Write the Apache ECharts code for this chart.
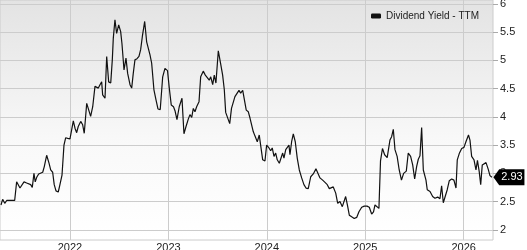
<!DOCTYPE html>
<html><head><meta charset="utf-8">
<script src="https://cdn.jsdelivr.net/npm/echarts@6/dist/echarts.min.js"></script>
<style>html,body{margin:0;padding:0;background:#fff}#c{width:527px;height:250px}</style>
</head><body><div id="c"></div>
<script>
// x values are decimal years
const dates = [
2021.299,2021.316,2021.337,2021.357,2021.377,2021.398,2021.418,2021.438,2021.458,2021.475,2021.492,2021.512,2021.533,2021.560,2021.576,2021.601,2021.617,2021.634,2021.647,2021.662,2021.682,2021.702,2021.723,2021.739,2021.763,2021.787,2021.804,2021.824,2021.840,2021.858,2021.881,2021.898,2021.919,2021.939,2021.956,2021.977,2022.000,2022.020,2022.034,2022.051,2022.068,2022.084,2022.109,2022.129,2022.145,2022.170,2022.186,2022.210,
2022.231,2022.254,2022.271,2022.288,2022.305,2022.322,2022.332,2022.356,2022.373,2022.393,2022.414,2022.430,2022.440,2022.457,2022.474,2022.495,2022.515,2022.528,2022.549,2022.569,2022.586,2022.610,2022.627,2022.643,2022.660,2022.681,2022.701,2022.718,2022.735,2022.759,2022.779,2022.796,2022.813,2022.830,2022.853,2022.874,2022.894,2022.917,
2022.942,2022.965,2022.991,2023.009,2023.029,2023.052,2023.067,2023.087,2023.110,2023.138,2023.158,2023.179,2023.202,2023.219,2023.237,2023.253,2023.270,2023.287,2023.311,2023.328,2023.354,2023.375,2023.395,2023.415,2023.430,2023.450,2023.466,2023.483,2023.507,2023.531,2023.551,2023.568,2023.582,2023.602,2023.623,2023.641,2023.659,2023.676,2023.694,2023.717,2023.734,2023.755,2023.771,2023.791,2023.812,2023.829,
2023.846,2023.862,2023.880,2023.903,2023.923,2023.941,2023.958,2023.981,2023.998,2024.022,2024.039,2024.055,2024.073,2024.090,2024.106,2024.127,2024.144,2024.161,2024.174,2024.192,2024.208,2024.225,2024.235,2024.252,2024.269,2024.289,2024.309,2024.330,2024.354,2024.377,2024.398,2024.421,2024.446,2024.472,2024.499,2024.517,2024.540,2024.567,2024.591,2024.614,2024.635,
2024.652,2024.675,2024.700,2024.720,2024.743,2024.767,2024.784,2024.801,2024.821,2024.838,2024.862,2024.888,2024.913,2024.936,2024.964,2024.990,2025.018,2025.041,2025.065,2025.084,2025.099,2025.116,2025.139,2025.155,2025.175,2025.197,2025.223,2025.251,2025.268,2025.285,2025.302,2025.324,2025.345,2025.368,2025.390,2025.417,2025.437,2025.461,
2025.482,2025.502,2025.522,2025.539,2025.556,2025.573,2025.590,2025.617,2025.630,2025.658,2025.685,2025.708,2025.736,2025.759,2025.776,2025.793,2025.810,2025.833,2025.854,2025.878,2025.901,2025.922,2025.935,2025.955,2025.980,2026.003,2026.023,2026.049,2026.064,2026.081,2026.105,2026.125,2026.140,2026.158,2026.173,2026.189,2026.206,2026.227,2026.250,2026.267,2026.287
];
const yields = [
2.44,2.54,2.47,2.52,2.49,2.52,2.50,2.52,2.85,2.82,2.74,2.77,2.85,2.83,2.85,2.80,2.75,3.00,2.85,2.93,2.99,2.97,3.02,3.12,3.32,3.18,3.06,3.02,2.80,2.69,2.67,2.80,2.97,3.50,3.63,3.62,3.61,3.62,3.93,3.80,3.72,3.83,3.92,3.86,3.71,4.24,4.21,4.01,
4.18,4.54,4.57,4.51,4.57,4.62,4.39,4.33,5.07,4.62,4.60,5.01,5.39,5.72,5.48,5.63,5.51,5.30,4.83,5.04,4.77,4.57,4.51,4.77,5.01,5.03,5.07,5.19,5.42,5.69,5.33,5.30,5.10,4.95,4.48,4.30,4.14,4.13,
4.71,4.86,4.82,4.51,4.21,4.18,4.11,3.95,4.18,4.33,3.70,3.83,3.96,4.04,3.99,4.15,4.09,4.18,4.27,4.71,4.81,4.74,4.77,4.65,4.71,4.57,4.74,4.60,5.17,4.94,4.74,4.48,4.08,4.05,3.88,4.15,4.18,4.36,4.33,4.47,4.42,4.47,4.45,4.12,4.09,3.98,
3.95,3.74,3.66,3.56,3.68,3.45,3.24,3.22,3.50,3.45,3.40,3.45,3.30,3.36,3.24,3.18,3.16,3.36,3.27,3.42,3.45,3.50,3.33,3.56,3.70,3.56,3.27,3.06,2.92,2.80,2.74,2.73,2.94,2.99,3.08,3.06,2.92,2.88,2.84,2.80,2.73,
2.71,2.76,2.65,2.47,2.50,2.41,2.44,2.59,2.42,2.26,2.23,2.20,2.22,2.32,2.40,2.42,2.42,2.40,2.28,2.32,2.44,2.47,2.38,3.22,3.44,3.33,3.28,3.59,3.65,3.78,3.42,3.30,3.06,2.88,3.00,3.04,3.36,3.30,
3.15,2.90,3.12,3.25,3.31,3.81,3.06,2.88,2.71,2.68,2.59,2.56,2.58,2.55,2.78,2.48,2.46,2.71,2.87,2.90,2.88,2.74,3.24,3.35,3.44,3.46,3.56,3.68,3.59,3.30,3.24,3.06,3.23,3.03,2.80,3.15,3.18,3.19,3.07,2.96,2.93
];
const xTicks = [2022, 2023, 2024, 2025, 2026];
const yTicks = [2, 2.5, 3, 3.5, 4, 4.5, 5, 5.5, 6];
const seriesName = 'Dividend Yield - TTM';

const FONT = 'Liberation Sans, Arial, sans-serif';
const points = dates.map((d, i) => [d, yields[i]]);
const last = points[points.length - 1];

const chart = echarts.init(document.getElementById('c'), null, {renderer: 'canvas'});
chart.setOption({
  animation: false,
  backgroundColor: '#ffffff',
  grid: {
    left: 0, right: 34, top: 0, bottom: 10,
    containLabel: false, outerBoundsMode: 'none',
    show: true, borderColor: '#cccccc', borderWidth: 1,
    backgroundColor: {type: 'linear', x: 0, y: 0, x2: 0, y2: 1,
      colorStops: [{offset: 0, color: '#e3e3e3'}, {offset: 0.6, color: '#f9f9f9'}, {offset: 1, color: '#ffffff'}]}
  },
  legend: {
    show: true, right: 43, top: 6, itemWidth: 10, itemHeight: 5, itemGap: 10,
    icon: 'roundRect',
    textStyle: {fontFamily: FONT, fontSize: 10, color: '#222'},
    data: [seriesName]
  },
  xAxis: {
    type: 'value', min: 2021.289, max: 2026.298,
    axisLine: {show: false},
    axisTick: {show: false, customValues: xTicks},
    axisLabel: {customValues: xTicks, margin: 2, fontFamily: FONT, fontSize: 11, color: '#222',
      formatter: v => String(v)},
    splitLine: {show: true, lineStyle: {color: '#cccccc', width: 1}}
  },
  yAxis: {
    type: 'value', position: 'right', min: 1.82, max: 6.07,
    axisLine: {show: false},
    axisTick: {show: true, length: 5, customValues: yTicks, lineStyle: {color: '#aaaaaa'}},
    axisLabel: {customValues: yTicks, margin: 7, fontFamily: FONT, fontSize: 11, color: '#222'},
    splitLine: {show: true, lineStyle: {color: '#cccccc', width: 1}}
  },
  series: [{
    name: seriesName, type: 'line', data: points, showSymbol: false,
    lineStyle: {color: '#111111', width: 1.2}, itemStyle: {color: '#111111'},
    markPoint: {
      symbol: 'path://M0,8L6,0L32,0L32,16L6,16Z',
      symbolSize: [31, 16], symbolKeepAspect: false, symbolOffset: [17, 0],
      itemStyle: {color: '#000000'},
      label: {show: true, position: 'inside', offset: [3, 0], color: '#ffffff', fontFamily: FONT, fontSize: 11,
        formatter: p => Number(p.value).toFixed(2)},
      data: [{coord: last, value: last[1]}]
    }
  }]
});
</script></body></html>
